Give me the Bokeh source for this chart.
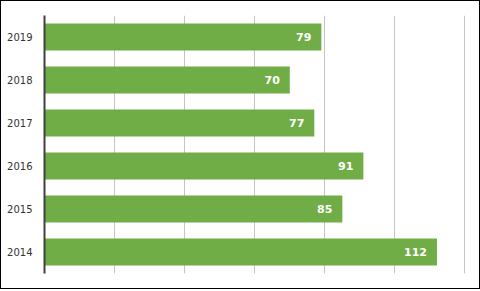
from bokeh.plotting import figure
from bokeh.models import ColumnDataSource, FixedTicker
from bokeh.embed import file_html
from bokeh.resources import INLINE
from bokeh.core.properties import value

years = ["2014", "2015", "2016", "2017", "2018", "2019"]
counts = [112, 85, 91, 77, 70, 79]
labels = [str(c) for c in counts]
x_ticks = [0, 20, 40, 60, 80, 100, 120]

src = ColumnDataSource(dict(y=years, v=counts, lab=labels))

p = figure(width=480, height=289, y_range=years, x_range=(0, 121),
           output_backend="svg", toolbar_location=None,
           min_border_left=43, min_border_right=13,
           min_border_top=14, min_border_bottom=17)
p.styles = {"border": "1px solid black"}
p.outline_line_color = None
p.background_fill_color = "white"

p.hbar(y="y", right="v", left=0, height=0.63, source=src,
       fill_color="#70AD47", line_color=None)
p.text(x="v", y="y", text="lab", source=src, x_offset=-10,
       text_align="right", text_baseline="middle",
       text_color="white", text_font=value("DejaVu Sans"),
       text_font_style="bold", text_font_size="11px")

p.xaxis.visible = False
p.xaxis.ticker = FixedTicker(ticks=x_ticks)
p.xgrid.ticker = FixedTicker(ticks=x_ticks)
p.xgrid.grid_line_color = "#c4c4c4"
p.xgrid.grid_line_width = 1
p.ygrid.grid_line_color = None

ax = p.yaxis[0]
ax.axis_line_color = "#404040"
ax.axis_line_width = 2
ax.major_tick_line_color = None
ax.minor_tick_line_color = None
ax.major_tick_out = 0
ax.major_tick_in = 0
ax.major_label_standoff = 12
ax.major_label_text_font = "DejaVu Sans"
ax.major_label_text_font_size = "10px"
ax.major_label_text_color = "#333333"

open("out.html", "w").write(file_html(p, INLINE))
